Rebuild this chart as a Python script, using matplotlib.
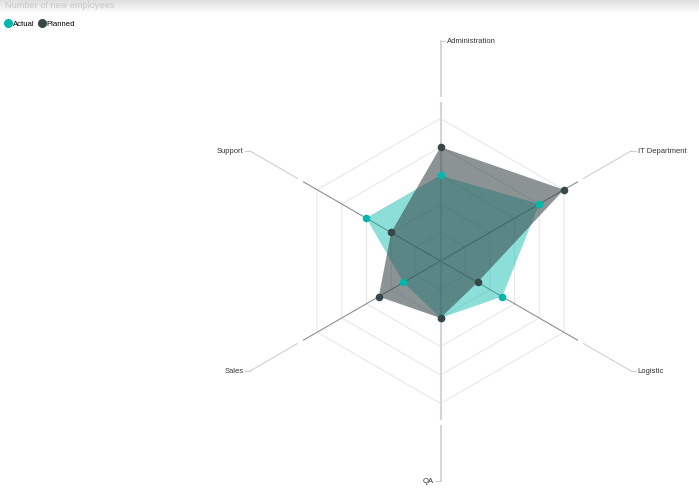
import numpy as np
import matplotlib
matplotlib.use("Agg")
import matplotlib.pyplot as plt

plt.rcParams["font.family"] = ["Liberation Sans", "DejaVu Sans"]

# data
categories = ["Administration", "IT Department", "Logistic", "QA", "Sales", "Support"]
actual = [6, 8, 5, 4, 3, 6]
planned = [8, 10, 3, 4, 5, 4]
grid_levels = [2, 4, 6, 8, 10]
title = "Number of new employees"

ACTUAL_COLOR = "#01B8AA"
PLANNED_COLOR = "#374649"

W, H = 699, 498
PX_PER_UNIT = 14.25
CX, CY = 440.5, 261.0

fig = plt.figure(figsize=(W / 100, H / 100), dpi=100)
ax = fig.add_axes([0, 0, 1, 1])
ax.set_xlim(-CX / PX_PER_UNIT, (W - CX) / PX_PER_UNIT)
ax.set_ylim(-(H - CY) / PX_PER_UNIT, CY / PX_PER_UNIT)
ax.axis("off")

# header shadow
grad = np.linspace(0.82, 1.0, 50).reshape(-1, 1) ** 0.7
bg = fig.add_axes([0, 1 - 14 / H, 1, 14 / H], zorder=-5)
bg.imshow(grad, cmap="gray", vmin=0, vmax=1, aspect="auto", extent=(0, 1, 0, 1))
bg.axis("off")

n = len(categories)
angles = np.pi / 2 - np.arange(n) * 2 * np.pi / n
ux, uy = np.cos(angles), np.sin(angles)

# hexagon grid
for lv in grid_levels:
    xs = np.append(lv * ux, lv * ux[0])
    ys = np.append(lv * uy, lv * uy[0])
    ax.plot(xs, ys, color="#e8e8e8", lw=0.8, zorder=1)

# axes and leader lines
for i, name in enumerate(categories):
    vertical = abs(ux[i]) < 1e-6
    inner_col = "#d4d4d4" if vertical else "#8e8e8e"
    inner_lw = 1.5 if vertical else 0.8
    ax.plot([0, 11.1 * ux[i]], [0, 11.1 * uy[i]], color=inner_col, lw=inner_lw, zorder=2)
    r0, r1 = 11.6, 15.45
    ax.plot([r0 * ux[i], r1 * ux[i]], [r0 * uy[i], r1 * uy[i]],
            color="#cfcfcf", lw=1.2 if vertical else 0.8, zorder=2)
    ex, ey = r1 * ux[i], r1 * uy[i]
    right = ux[i] > 0.01 or (vertical and uy[i] > 0)
    tick = 0.35 if right else -0.35
    ax.plot([ex, ex + tick], [ey, ey], color="#cfcfcf", lw=0.8, zorder=2)
    ax.text(ex + tick * 1.3, ey - 0.05, name, fontsize=5.5, color="#333333",
            ha="left" if right else "right", va="center")

# series
ax.fill(np.array(actual) * ux, np.array(actual) * uy, color=ACTUAL_COLOR,
        alpha=0.45, lw=0, zorder=3)
ax.fill(np.array(planned) * ux, np.array(planned) * uy, color=PLANNED_COLOR,
        alpha=0.58, lw=0, zorder=4)
ax.scatter(np.array(actual) * ux, np.array(actual) * uy, s=30, color=ACTUAL_COLOR,
           zorder=5, lw=0)
ax.scatter(np.array(planned) * ux, np.array(planned) * uy, s=30, color=PLANNED_COLOR,
           zorder=6, lw=0)

# title and legend
fig.text(5 / W, 1 - 5 / H, title, fontsize=6.6, color="#c8c8c8", ha="left", va="center")
handles = [plt.Line2D([], [], marker="o", ls="", color=c, markersize=5.5)
           for c in (ACTUAL_COLOR, PLANNED_COLOR)]
fig.legend(handles, ["Actual", "Planned"], loc="upper left",
           bbox_to_anchor=(3 / W, 1 - 19 / H), ncol=2, frameon=False,
           fontsize=5.6, handletextpad=0.1, columnspacing=0.4,
           borderaxespad=0, handlelength=1.0, borderpad=0.2)

fig.savefig("out.png", dpi=100)
